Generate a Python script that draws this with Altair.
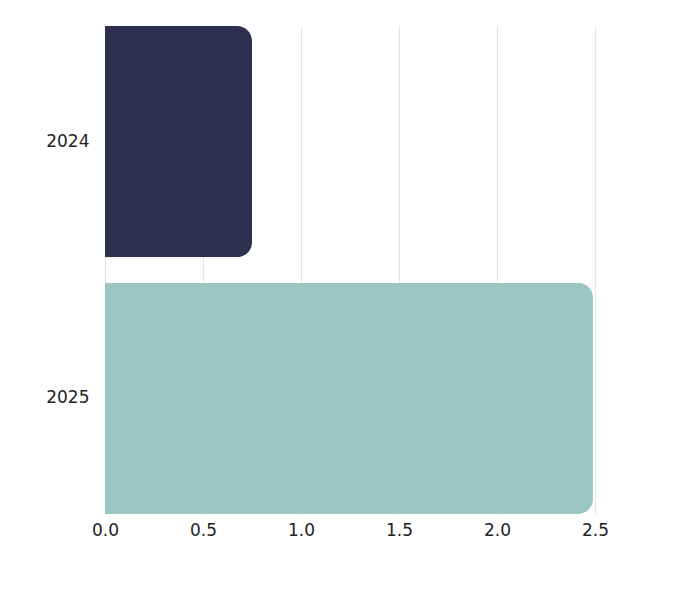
import altair as alt
import pandas as pd

years = ["2024", "2025"]
values = [0.75, 2.49]
colors = ["#2E2E4F", "#9AC7C1"]

df = pd.DataFrame({"year": years, "value": values})

FONT = "DejaVu Sans"

chart = alt.Chart(df).mark_bar(cornerRadiusEnd=15).encode(
    y=alt.Y("year:N", sort=years, title=None,
            scale=alt.Scale(paddingInner=0.1, paddingOuter=0),
            axis=alt.Axis(ticks=False, domain=False, labelPadding=16,
                          labelFontSize=17, labelColor="#222222", labelFont=FONT)),
    x=alt.X("value:Q", title=None,
            scale=alt.Scale(domain=[0, 2.5], nice=False),
            axis=alt.Axis(values=[0, 0.5, 1.0, 1.5, 2.0, 2.5], format=".1f",
                          ticks=False, domain=False, labelPadding=8,
                          labelFontSize=17, labelColor="#222222", labelFont=FONT,
                          gridColor="#e4e4e4", gridWidth=1, labelFlush=False)),
    color=alt.Color("year:N", scale=alt.Scale(domain=years, range=colors), legend=None),
).properties(
    width=490, height=488,
    autosize=alt.AutoSizeParams(type="none"),
    padding={"left": 97, "top": 18, "right": 80, "bottom": 72},
).configure_view(stroke=None)

chart.save("out.html", embed_options={"renderer": "svg", "actions": False})
